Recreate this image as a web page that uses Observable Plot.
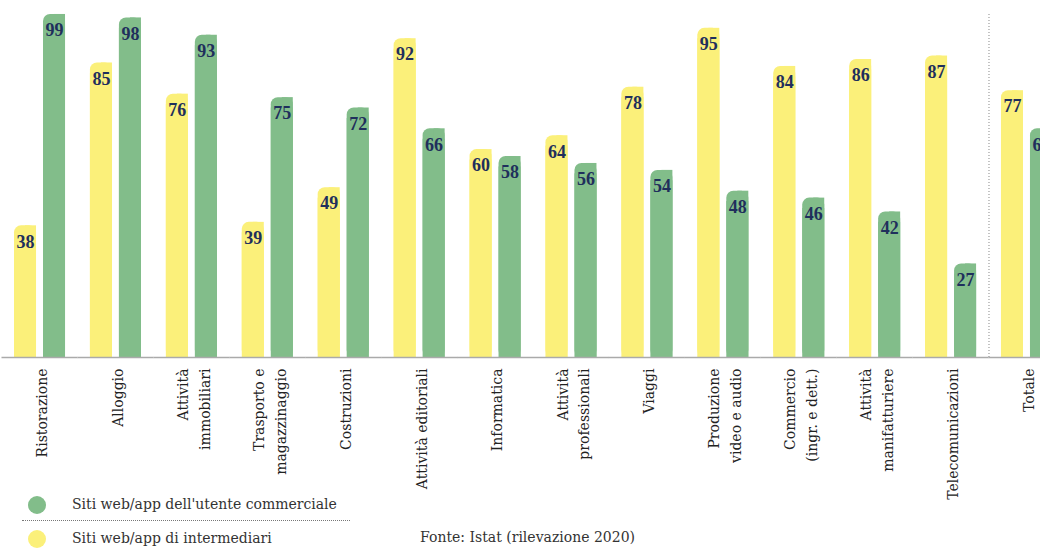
<!DOCTYPE html>
<html><head><meta charset="utf-8">
<script src="https://cdn.jsdelivr.net/npm/d3@7"></script>
<script src="https://cdn.jsdelivr.net/npm/@observablehq/plot@0.6"></script>
<style>
html,body{margin:0;padding:0;background:#fff;overflow:hidden;width:1040px;height:552px;}
#wrap{position:relative;width:1040px;height:552px;overflow:hidden;font-family:"DejaVu Serif",serif;}
#chart{position:absolute;left:0;top:0;}
#chart svg{max-width:none;}
.leg{position:absolute;left:0;font-size:14px;color:#333;}
.dot{position:absolute;width:18px;height:18px;border-radius:50%;}
.ltxt{position:absolute;white-space:nowrap;}
#sep{position:absolute;left:22px;top:520px;width:328px;border-top:1px dotted #777;}
#cap{position:absolute;left:420px;top:529px;font-size:14px;color:#333;white-space:nowrap;}
</style></head>
<body><div id="wrap"><div id="chart"></div>
<div class="dot" style="left:28px;top:496px;background:#82bd8a"></div>
<div class="ltxt leg" style="left:72px;top:496px">Siti web/app dell'utente commerciale</div>
<div id="sep"></div>
<div class="dot" style="left:28px;top:530px;background:#fbf07a"></div>
<div class="ltxt leg" style="left:72px;top:530px">Siti web/app di intermediari</div>
<div id="cap">Fonte: Istat (rilevazione 2020)</div>
</div>
<script>
const categories = ["Ristorazione","Alloggio","Attività immobiliari","Trasporto e magazzinaggio","Costruzioni","Attività editoriali","Informatica","Attività professionali","Viaggi","Produzione video e audio","Commercio (ingr. e dett.)","Attività manifatturiere","Telecomunicazioni","Totale"];
const tickLabels = ["Ristorazione","Alloggio","Attività\nimmobiliari","Trasporto e\nmagazzinaggio","Costruzioni","Attività editoriali","Informatica","Attività\nprofessionali","Viaggi","Produzione\nvideo e audio","Commercio\n(ingr. e dett.)","Attività\nmanifatturiere","Telecomunicazioni","Totale"];
const series = ["Siti web/app di intermediari","Siti web/app dell'utente commerciale"];
const intermediari = [38,85,76,39,49,92,60,64,78,95,84,86,87,77];
const commerciale = [99,98,93,75,72,66,58,56,54,48,46,42,27,66];
const colors = ["#fbf07a","#82bd8a"];

const data = [];
categories.forEach((c,i)=>{
  data.push({cat:c, serie:series[0], value:intermediari[i]});
  data.push({cat:c, serie:series[1], value:commerciale[i]});
});
const ticks = categories.map((c,i)=>({cat:c, label:tickLabels[i]}));
const font = "DejaVu Serif";
const numFont = "Liberation Serif";

const plot = Plot.plot({
  width: 1052, height: 552,
  marginLeft: 14, marginRight: 0, marginTop: 10.5, marginBottom: 195,
  style: {fontFamily: font, background: "transparent", maxWidth: "none"},
  fx: {domain: categories, paddingInner: 0.328, paddingOuter: 0, round: false, axis: null, label: null},
  x: {domain: series, paddingInner: 0.241, paddingOuter: 0, round: false, axis: null},
  y: {domain: [0,100], axis: null},
  color: {domain: series, range: colors},
  marks: [
    Plot.barY(data, {fx:"cat", x:"serie", y:"value", fill:"serie", rx:7}),
    Plot.barY(data, {fx:"cat", x:"serie", y:"value", fill:"serie", insetLeft:11}),
    Plot.barY(data, {fx:"cat", x:"serie", y:d=>d.value-3, fill:"serie"}),
    Plot.ruleY([0], {stroke:"#aaa", strokeWidth:1.5, insetLeft:-12.5, insetRight:-12.5}),
    Plot.ruleX([{cat:"Totale"}], {fx:"cat", x:()=>series[0], y1:0, y2:99.5, dx:-23.5, stroke:"#888", strokeDasharray:"1,2"}),
    Plot.text(data, {fx:"cat", x:"serie", y:"value", text:d=>String(d.value), dy:16, lineAnchor:"middle", fill:"#1f2f5c", fontWeight:"bold", fontSize:18, fontFamily:numFont}),
    Plot.text(ticks, {fx:"cat", text:"label", frameAnchor:"bottom", rotate:-90, textAnchor:"end", lineAnchor:"middle", dy:11, fontSize:14, lineHeight:1.55, fill:"#222", fontFamily:font})
  ]
});
document.getElementById("chart").appendChild(plot);
</script>
</body></html>
